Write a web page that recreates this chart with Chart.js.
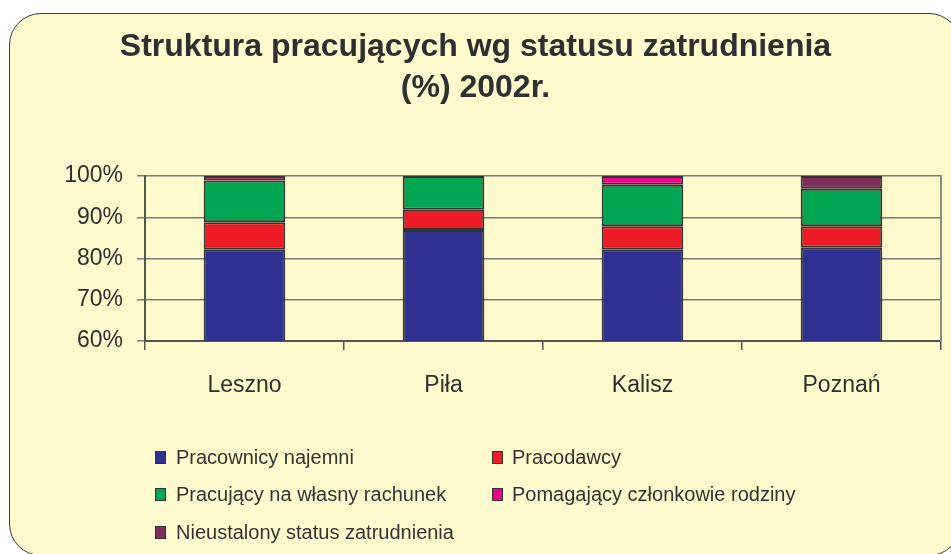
<!DOCTYPE html>
<html>
<head>
<meta charset="utf-8">
<script src="https://cdn.jsdelivr.net/npm/chart.js@4/dist/chart.umd.min.js"></script>
<style>
  html, body { margin: 0; padding: 0; background: #ffffff; width: 951px; height: 554px; overflow: hidden; }
  #box { position: absolute; left: 9px; top: 13px; width: 950px; height: 541px; background: #FFFACD;
         border: 1.5px solid #3a3a3a; border-radius: 32px; }
  #wrap { position: absolute; left: 0; top: 0; width: 951px; height: 554px; }
  .lg { position: absolute; font-family: 'Liberation Sans', Arial, sans-serif; font-size: 20px; color: #333; line-height: 20px; white-space: nowrap; }
  .sw { position: absolute; width: 9px; height: 11px; border: 1px solid #333; }
</style>
</head>
<body>
<div id="box"></div>
<div id="wrap"><canvas id="c"></canvas></div>
<div id="legend"></div>
<script>
const categories = ['Leszno', 'Piła', 'Kalisz', 'Poznań'];
const seriesNames = ['Pracownicy najemni', 'Pracodawcy', 'Pracujący na własny rachunek', 'Pomagający członkowie rodziny', 'Nieustalony status zatrudnienia'];
const seriesColors = ['#2E3192', '#ED1C24', '#00A651', '#EC008C', '#7F2D5F'];
const pracownicyNajemni = [82.1, 86.9, 82.1, 82.6];
const pracodawcy = [6.7, 4.9, 5.7, 5.2];
const wlasnyRachunek = [10.1, 8.2, 10.1, 9.1];
const pomagajacy = [1.1, 0, 2.1, 0];
const nieustalony = [0, 0, 0, 3.1];
const yTicks = [60, 70, 80, 90, 100];
const titleLines = ['Struktura pracujących wg statusu zatrudnienia', '(%) 2002r.'];

const seriesValues = [pracownicyNajemni, pracodawcy, wlasnyRachunek, pomagajacy, nieustalony];
const FONT = "'Liberation Sans', Arial, sans-serif";

const datasets = seriesNames.map((n, i) => ({
  label: n,
  data: seriesValues[i],
  backgroundColor: seriesColors[i],
  borderColor: '#333333',
  borderWidth: 2,
  borderSkipped: false,
  barPercentage: 0.41,
  categoryPercentage: 1.0,
  yAxisID: 'y'
}));

new Chart(document.getElementById('c'), {
  type: 'bar',
  data: { labels: categories, datasets },
  options: {
    responsive: true,
    maintainAspectRatio: false,
    animation: false,
    layout: { padding: { left: 0, right: 0, top: 0, bottom: 0 } },
    plugins: {
      legend: { display: false },
      tooltip: { enabled: false },
      title: {
        display: true,
        text: titleLines,
        color: '#2f2f2f',
        font: { family: FONT, size: 32, weight: 'bold', lineHeight: 1.28 },
        padding: { top: 26.5, bottom: 67.6 }
      }
    },
    scales: {
      x: {
        stacked: true,
        offset: true,
        grid: { offset: true, drawOnChartArea: false, drawTicks: true, tickLength: 9, color: '#555555', lineWidth: 1.5 },
        border: { display: true, color: '#555555', width: 2 },
        ticks: { color: '#2f2f2f', font: { family: FONT, size: 23 }, padding: 22 },
        afterFit: s => { s.height = 213; }
      },
      y: {
        stacked: true,
        min: 60,
        max: 100,
        afterBuildTicks: s => { s.ticks = yTicks.map(v => ({ value: v })); },
        grid: { color: '#7a7a7a', lineWidth: 1.5, tickLength: 8 },
        border: { display: true, color: '#555555', width: 2 },
        ticks: { color: '#2f2f2f', font: { family: FONT, size: 23 }, padding: 14, callback: v => v + '%' },
        afterFit: s => { s.width = 145; }
      },
      yRight: {
        position: 'right',
        display: true,
        grid: { display: true, drawOnChartArea: false, drawTicks: false },
        border: { display: true, color: '#8a8a8a', width: 2 },
        ticks: { display: false },
        afterFit: s => { s.width = 10; }
      }
    }
  }
});

// HTML legend built from the series arrays
const legend = document.getElementById('legend');
const colX = [155, 492];
const textX = [176, 512];
const rowY = [457, 494, 532];
seriesNames.forEach((n, i) => {
  const col = i % 2, row = Math.floor(i / 2);
  const sw = document.createElement('div');
  sw.className = 'sw';
  sw.style.left = colX[col] + 'px';
  sw.style.top = (rowY[row] - 6) + 'px';
  sw.style.background = seriesColors[i];
  legend.appendChild(sw);
  const t = document.createElement('div');
  t.className = 'lg';
  t.style.left = textX[col] + 'px';
  t.style.top = (rowY[row] - 10) + 'px';
  t.textContent = n;
  legend.appendChild(t);
});
</script>
</body>
</html>
